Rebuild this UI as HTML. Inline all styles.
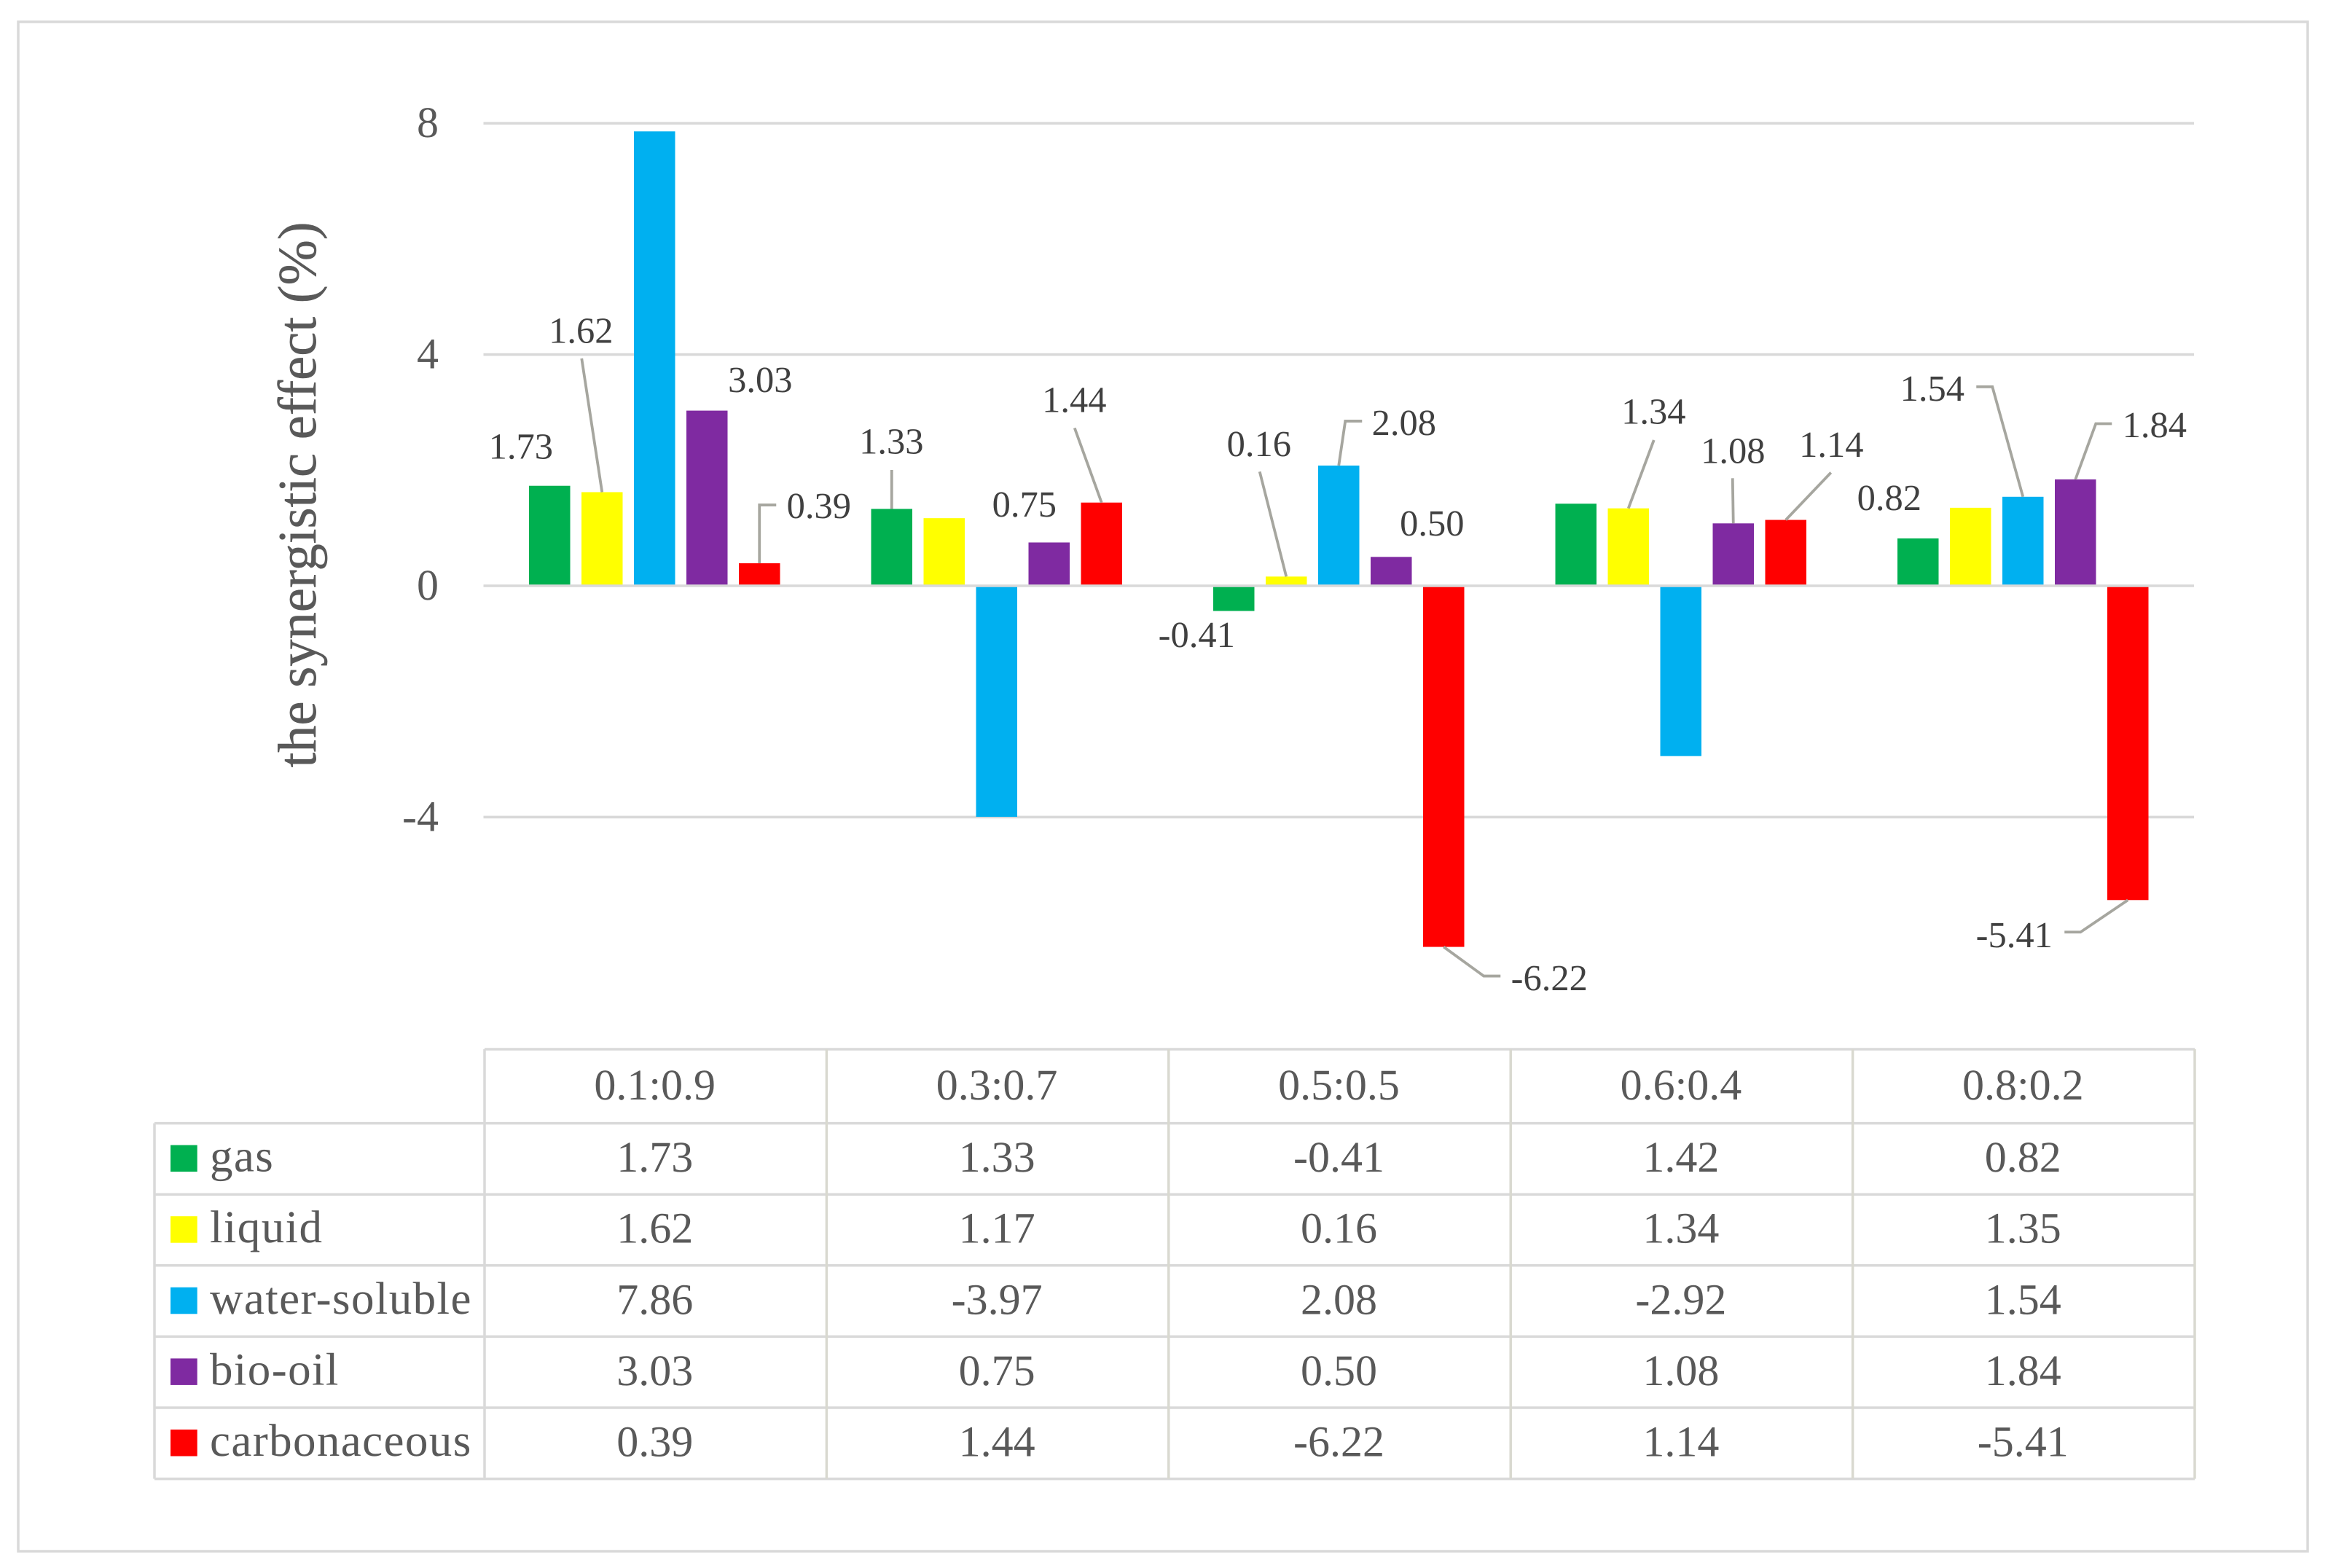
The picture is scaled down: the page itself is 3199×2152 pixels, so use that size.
<!DOCTYPE html>
<html lang="en">
<head>
<meta charset="utf-8">
<title>Synergistic effect chart</title>
<style>
html,body{margin:0;padding:0;background:#fff;width:3199px;height:2152px;overflow:hidden}
svg{display:block}
text{font-family:"Liberation Serif",serif;text-rendering:geometricPrecision}
</style>
</head>
<body>
<svg id="chart" xmlns="http://www.w3.org/2000/svg" width="3199" height="2152" viewBox="0 0 3199 2152">
  <rect x="0" y="0" width="3199" height="2152" fill="#ffffff"/>
  <rect x="25" y="30" width="3142" height="2099" fill="none" stroke="#d9d9d9" stroke-width="3.5"/>
  <text transform="translate(433 679) rotate(-90)" text-anchor="middle" font-size="74.6" fill="#595959" stroke="#595959" stroke-width="0.5">the synergistic effect (%)</text>
  <g id="grid"></g>
  <g id="bars"></g>
  <g id="axis"></g>
  <g id="leaders"></g>
  <g id="labels"></g>
  <g id="table"></g>
</svg>
<script>
const categories = ["0.1:0.9", "0.3:0.7", "0.5:0.5", "0.6:0.4", "0.8:0.2"];
const seriesNames = ["gas", "liquid", "water-soluble", "bio-oil", "carbonaceous"];
const gasValues = [1.73, 1.33, -0.41, 1.42, 0.82];
const liquidValues = [1.62, 1.17, 0.16, 1.34, 1.35];
const waterSolubleValues = [7.86, -3.97, 2.08, -2.92, 1.54];
const bioOilValues = [3.03, 0.75, 0.50, 1.08, 1.84];
const carbonaceousValues = [0.39, 1.44, -6.22, 1.14, -5.41];
const yTicks = [8, 4, 0, -4];

const seriesValues = [gasValues, liquidValues, waterSolubleValues, bioOilValues, carbonaceousValues];
const seriesColors = ["#00b050", "#ffff00", "#00b0f0", "#7f2aa1", "#ff0000"];

/* Chart geometry */
const NS = "http://www.w3.org/2000/svg";
const plotLeft = 663.5, plotRight = 3011;
const zeroY = 804, unitY = 79.35, negativeBarShift = 2;
const catWidth = (plotRight - plotLeft) / categories.length;
const barWidth = 56.5, barPitch = 72;
const yScale = v => zeroY - v * unitY;
const barEnd = v => yScale(v) + (v < 0 ? negativeBarShift : 0);
const catStart = c => plotLeft + catWidth * c + (catWidth - (barPitch * 4 + barWidth)) / 2;
const barCenter = (s, c) => catStart(c) + barPitch * s + barWidth / 2;

function make(tag, attrs, parent, text) {
  const el = document.createElementNS(NS, tag);
  for (const k in attrs) el.setAttribute(k, attrs[k]);
  if (text !== undefined) el.textContent = text;
  parent.appendChild(el);
  return el;
}

/* Gridlines and y ticks */
const gridG = document.getElementById("grid");
const axisG = document.getElementById("axis");
yTicks.forEach(t => {
  const line = make("line", {x1: plotLeft, x2: plotRight, y1: yScale(t), y2: yScale(t), stroke: "#d9d9d9", "stroke-width": 3.6}, t === 0 ? axisG : gridG);
  
  
  const lab = make("text", {x: 602, y: yScale(t) + 19, "text-anchor": "end", "font-size": 60, fill: "#595959"}, axisG, String(t));
  
  
});

/* Bars */
const barsG = document.getElementById("bars");
seriesValues.forEach((vals, s) => {
  vals.forEach((v, c) => {
    const y0 = yScale(Math.max(v, 0)), y1 = v < 0 ? barEnd(v) : zeroY;
    const bar = make("rect", {x: catStart(c) + barPitch * s, y: y0, width: barWidth, height: y1 - y0, fill: seriesColors[s]}, barsG);
    
    
  });
});

/* Data labels: offsets are relative to the end of the bar they annotate */
const labelLayout = [
  {s:0,c:0,dx:-39.5,dy:-37},
  {s:0,c:1,dx:-0.5,dy:-76,leader:[[0,-53.5],[0,0]]},
  {s:0,c:2,dx:-51,dy:49.5},
  {s:0,c:4,dx:-39.5,dy:-39},
  {s:1,c:0,dx:-29,dy:-205,leader:[[-28,-183.5],[0,0]]},
  {s:1,c:2,dx:-37.5,dy:-165.5,leader:[[-36.5,-144],[0,0]]},
  {s:1,c:3,dx:34.5,dy:-116,leader:[[35,-93.7],[0,0]]},
  {s:2,c:2,dx:89.5,dy:-42,leader:[[0,0],[9,-61],[32,-61]]},
  {s:2,c:4,dx:-124.5,dy:-132,leader:[[0,0],[-42,-151],[-64,-151]]},
  {s:3,c:0,dx:73,dy:-25.6},
  {s:3,c:1,dx:-34,dy:-35.5},
  {s:3,c:2,dx:56,dy:-29.5},
  {s:3,c:3,dx:-0.5,dy:-83,leader:[[0,0],[-1,-62]]},
  {s:3,c:4,dx:108.5,dy:-58,leader:[[0,0],[28,-76.5],[50,-76.5]]},
  {s:4,c:0,dx:81.5,dy:-62,leader:[[0,0],[0,-80],[23,-80]]},
  {s:4,c:1,dx:-37.5,dy:-124,leader:[[0,0],[-37,-102.4]]},
  {s:4,c:2,dx:145,dy:59.4,leader:[[0,0],[55,40],[78,40]]},
  {s:4,c:3,dx:62.5,dy:-86.5,leader:[[0,0],[62,-65]]},
  {s:4,c:4,dx:-156,dy:64.7,leader:[[0,0],[-65,44],[-87,44]]}
];
const labelsG = document.getElementById("labels");
const leadersG = document.getElementById("leaders");
labelLayout.forEach(item => {
  const v = seriesValues[item.s][item.c];
  const ax = barCenter(item.s, item.c), ay = barEnd(v);
  const t = make("text", {x: ax + item.dx, y: ay + item.dy, "text-anchor": "middle", "font-size": 50.5, fill: "#404040"}, labelsG, v.toFixed(2));
  
  
  if (item.leader) {
    const pts = item.leader.map(p => (ax + p[0]) + "," + (ay + p[1])).join(" ");
    const pl = make("polyline", {points: pts, fill: "none", stroke: "#a6a69f", "stroke-width": 3.8}, leadersG);
    
    
  }
});

/* Data table */
const tableG = document.getElementById("table");
const tableLeft = 212, tableRight = 3012, tableTop = 1440, headBottom = 1541.6, rowPitch = 97.6;
const tableLineColor = "#d9d9d9";
const colX = i => 665 + (tableRight - 665) / categories.length * i;
function tableLine(x1, y1, x2, y2, color) {
  const l = make("line", {x1, y1, x2, y2, stroke: color, "stroke-width": 3.5}, tableG);
  
  
}
tableLine(colX(0), tableTop, tableRight, tableTop, tableLineColor);
for (let r = 0; r <= seriesNames.length; r++) {
  const y = headBottom + rowPitch * r;
  tableLine(tableLeft, y, tableRight, y, tableLineColor);
}
const tableBottom = headBottom + rowPitch * seriesNames.length;
tableLine(tableLeft, headBottom, tableLeft, tableBottom, tableLineColor);
for (let i = 0; i <= categories.length; i++) {
  tableLine(colX(i), tableTop, colX(i), tableBottom, i === 0 ? tableLineColor : "#d9d9d0");
}
categories.forEach((cat, i) => {
  const h = make("text", {x: (colX(i) + colX(i + 1)) / 2 - 1, y: 1509, "text-anchor": "middle", "font-size": 60, fill: "#595959"}, tableG, cat);
  
  
});
seriesNames.forEach((name, s) => {
  const top = headBottom + rowPitch * s;
  const sw = make("rect", {x: 234, y: top + 30, width: 36.7, height: 36.5, fill: seriesColors[s]}, tableG);
  
  
  const lab = make("text", {x: 288, y: top + 66, "font-size": 63, "letter-spacing": 1.4, fill: "#595959"}, tableG, name);
  
  
  seriesValues[s].forEach((v, c) => {
    const cell = make("text", {x: (colX(c) + colX(c + 1)) / 2 - 1, y: top + 66.5, "text-anchor": "middle", "font-size": 60, fill: "#595959"}, tableG, v.toFixed(2));
    
    
  });
});
</script>
</body>
</html>
